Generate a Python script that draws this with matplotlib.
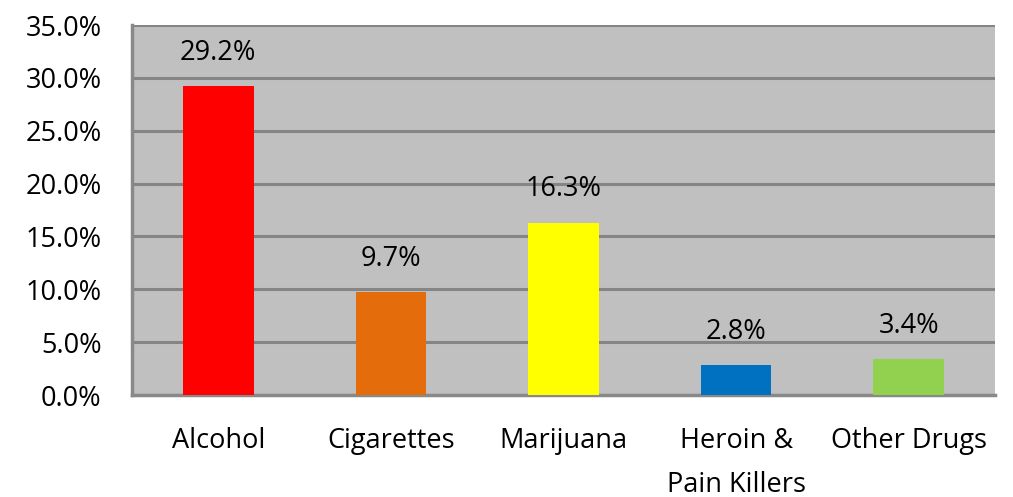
import matplotlib.pyplot as plt
from matplotlib.ticker import FuncFormatter

categories = ["Alcohol", "Cigarettes", "Marijuana", "Heroin &\nPain Killers", "Other Drugs"]
values = [29.2, 9.7, 16.3, 2.8, 3.4]
colors = ["#FF0000", "#E46C0A", "#FFFF00", "#0070C0", "#92D050"]
y_ticks = [0, 5, 10, 15, 20, 25, 30, 35]

plt.rcParams['font.family'] = ['Open Sans', 'DejaVu Sans']
fs = 19.5

fig = plt.figure(figsize=(10.13, 4.97), dpi=100)
ax = fig.add_axes([132 / 1013, 1 - 395 / 497, (995 - 132) / 1013, (395 - 25) / 497])

x = range(len(categories))
bars = ax.bar(x, values, width=0.41, color=colors, zorder=3)

for b, v in zip(bars, values):
    ax.annotate(f"{v:.1f}%", (b.get_x() + b.get_width() / 2, v),
                xytext=(0, 14), textcoords="offset points",
                ha="center", va="bottom", fontsize=fs, color="black")

ax.set_facecolor("#C0C0C0")
ax.set_xlim(-0.5, len(categories) - 0.5)
ax.set_ylim(0, 35)
ax.set_yticks(y_ticks)
ax.yaxis.set_major_formatter(FuncFormatter(lambda v, p: f"{v:.1f}%"))
ax.grid(axis="y", color="#858585", linewidth=2.2, zorder=1)
ax.set_axisbelow(True)

ax.set_xticks(list(x))
ax.set_xticklabels(categories, fontsize=fs, linespacing=1.75)
ax.tick_params(axis="x", length=0, pad=23)
ax.tick_params(axis="y", length=0, pad=22, labelsize=fs)

for side in ["top", "right"]:
    ax.spines[side].set_visible(False)
ax.spines["left"].set_color("#898989")
ax.spines["left"].set_linewidth(2.5)
ax.spines["bottom"].set_color("#898989")
ax.spines["bottom"].set_linewidth(2.5)

fig.savefig("out.png", dpi=100)
